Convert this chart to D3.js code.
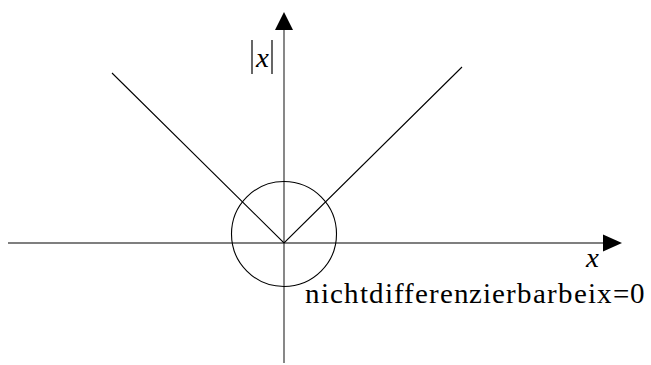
<!DOCTYPE html>
<html>
<head>
<meta charset="utf-8">
<script src="https://cdn.jsdelivr.net/npm/d3@7"></script>
<style>
  @font-face { font-family: "RefSerif"; src: local("Liberation Serif"), local("LiberationSerif"), local("Liberation Serif Regular"), local("FreeSerif"), local("Tinos"); font-style: normal; }
  @font-face { font-family: "RefSerif"; src: local("Liberation Serif Italic"), local("LiberationSerif-Italic"), local("FreeSerif Italic"), local("Tinos Italic"); font-style: italic; }
</style>
</head>
<body style="margin:0">
<div id="chart"></div>
<script>

// graph of |x|
var absPoints = [[-172, 170], [0, 0], [178, 176]];
// circle round the kink: centre and radius
var circleData = [{cx: 0, cy: 9, r: 52.5}];
var xDomain = [-276, 338];
var yDomain = [-120, 231];
var labelTexts = ["x", "x", "nichtdifferenzierbarbeix=0"];

var w = 651;
var h = 365;

var xScale = d3.scaleLinear()
				.domain(xDomain)
				.range([8, 622]);

var yScale = d3.scaleLinear()
				.domain(yDomain)
				.range([363, 12]);

var svg = d3.select("#chart")
			.append("svg")
			.attr("width", w)
			.attr("height", h);

var x0 = xScale(0), y0 = yScale(0);

// axes
svg.append("line")
	.attr("x1", xScale(xDomain[0])).attr("y1", y0)
	.attr("x2", xScale(xDomain[1]) - 10).attr("y2", y0)
	.attr("stroke", "#555").attr("stroke-width", 1.4);

svg.append("line")
	.attr("x1", x0).attr("y1", yScale(yDomain[0]))
	.attr("x2", x0).attr("y2", yScale(yDomain[1]) + 10)
	.attr("stroke", "#555").attr("stroke-width", 1.4);

// arrow heads
var xe = xScale(xDomain[1]), ye = yScale(yDomain[1]);
svg.append("path")
	.attr("d", "M" + xe + "," + y0 + "L" + (xe - 19) + "," + (y0 - 8.5) + "L" + (xe - 19) + "," + (y0 + 8.5) + "Z")
	.attr("fill", "#000");
svg.append("path")
	.attr("d", "M" + x0 + "," + ye + "L" + (x0 - 9) + "," + (ye + 18) + "L" + (x0 + 9) + "," + (ye + 18) + "Z")
	.attr("fill", "#000");

// |x|
var line = d3.line()
			.x(function(d){ return xScale(d[0]); })
			.y(function(d){ return yScale(d[1]); });

svg.append("path")
	.datum(absPoints)
	.attr("d", line)
	.attr("fill", "none")
	.attr("stroke", "#000")
	.attr("stroke-width", 1.1);

svg.selectAll("circle")
	.data(circleData)
	.enter()
	.append("circle")
	.attr("cx", function(d){ return xScale(d.cx); })
	.attr("cy", function(d){ return yScale(d.cy); })
	.attr("r", function(d){ return xScale(d.r) - x0; })
	.attr("fill", "none")
	.attr("stroke", "#000")
	.attr("stroke-width", 1.1);

// bars of |x|
svg.selectAll(".bar")
	.data([252, 272])
	.enter()
	.append("line")
	.attr("class", "bar")
	.attr("x1", function(d){ return d; }).attr("x2", function(d){ return d; })
	.attr("y1", 40).attr("y2", 74)
	.attr("stroke", "#000").attr("stroke-width", 1.2);

// labels
var labelPos = [[262, 67, "middle"], [592, 267, "middle"], [305, 303, "start"]];
svg.selectAll("text")
	.data(labelTexts)
	.enter()
	.append("text")
	.attr("x", function(d, i){ return labelPos[i][0]; })
	.attr("y", function(d, i){ return labelPos[i][1]; })
	.attr("text-anchor", function(d, i){ return labelPos[i][2]; })
	.attr("font-size", 29)
	.style("font-family", "RefSerif, 'Liberation Serif', Tinos, FreeSerif")
	.style("font-style", function(d, i){ return i < 2 ? "italic" : "normal"; })
	.text(function(d){ return d; });

// stretch the note to the width it has in the picture
svg.selectAll("text")
	.filter(function(d, i){ return i == 2; })
	.attr("textLength", 340)
	.attr("lengthAdjust", "spacing");

</script>
</body>
</html>
